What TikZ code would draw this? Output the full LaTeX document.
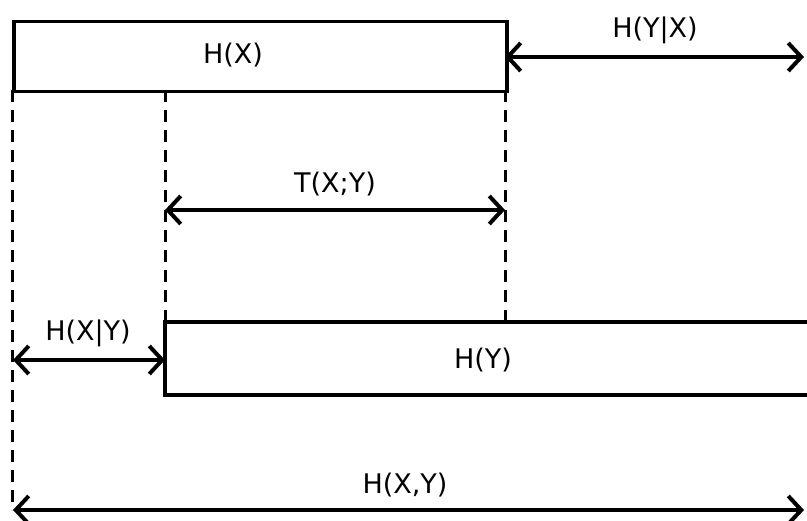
\documentclass[tikz,border=0pt]{standalone}
\usepackage{fontspec}
\setmainfont{DejaVu Sans}
\usetikzlibrary{arrows.meta}
\begin{document}
\begin{tikzpicture}[x=1pt,y=-1pt,
  boxline/.style={line width=3.5pt},
  guide/.style={line width=3pt,dash pattern=on 12pt off 8pt},
  dimarrow/.style={line width=4pt,{Straight Barb[length=13pt,width=28pt,line width=4pt]}-{Straight Barb[length=13pt,width=28pt,line width=4pt]}},
  lbl/.style={font=\fontsize{27}{30}\selectfont,inner sep=0pt}]
\useasboundingbox (0,0) rectangle (807,521);
% H(X) box
\node[draw,boxline,minimum width=493pt,minimum height=70pt,inner sep=0pt,anchor=north west] (hx) at (12,20) {};
\node[lbl] (hxl) at (233,55) {H(X)};
% H(Y) box (open to the right)
\coordinate (hyTL) at (165,322);
\coordinate (hyTR) at (810,322);
\coordinate (hyBL) at (165,395);
\coordinate (hyBR) at (810,395);
\draw[boxline] (hyTR) -- (hyTL) -- (hyBL) -- (hyBR);
\node[lbl] (hyl) at (483,360) {H(Y)};
% guide coordinates
\coordinate (g1a) at (12,90);
\coordinate (g1b) at (12,510);
\coordinate (g2a) at (165,90);
\coordinate (g2b) at (165,322);
\coordinate (g3a) at (505,90);
\coordinate (g3b) at (505,322);
\draw[guide] (g1a) -- (g1b);
\draw[guide] (g2a) -- (g2b);
\draw[guide] (g3a) -- (g3b);
% H(Y|X)
\coordinate (a1s) at (505,57);
\coordinate (a1e) at (804,57);
\draw[dimarrow] (a1s) -- (a1e);
\node[lbl] (l1) at (655,30) {H(Y|X)};
% T(X;Y)
\coordinate (a2s) at (165,210);
\coordinate (a2e) at (505,210);
\draw[dimarrow] (a2s) -- (a2e);
\node[lbl] (l2) at (335,184) {T(X;Y)};
% H(X|Y)
\coordinate (a3s) at (13,360);
\coordinate (a3e) at (165,360);
\draw[dimarrow] (a3s) -- (a3e);
\node[lbl] (l3) at (88,333) {H(X|Y)};
% H(X,Y)
\coordinate (a4s) at (13,510);
\coordinate (a4e) at (804,510);
\draw[dimarrow] (a4s) -- (a4e);
\node[lbl] (l4) at (405,485) {H(X,Y)};
\end{tikzpicture}
\end{document}
